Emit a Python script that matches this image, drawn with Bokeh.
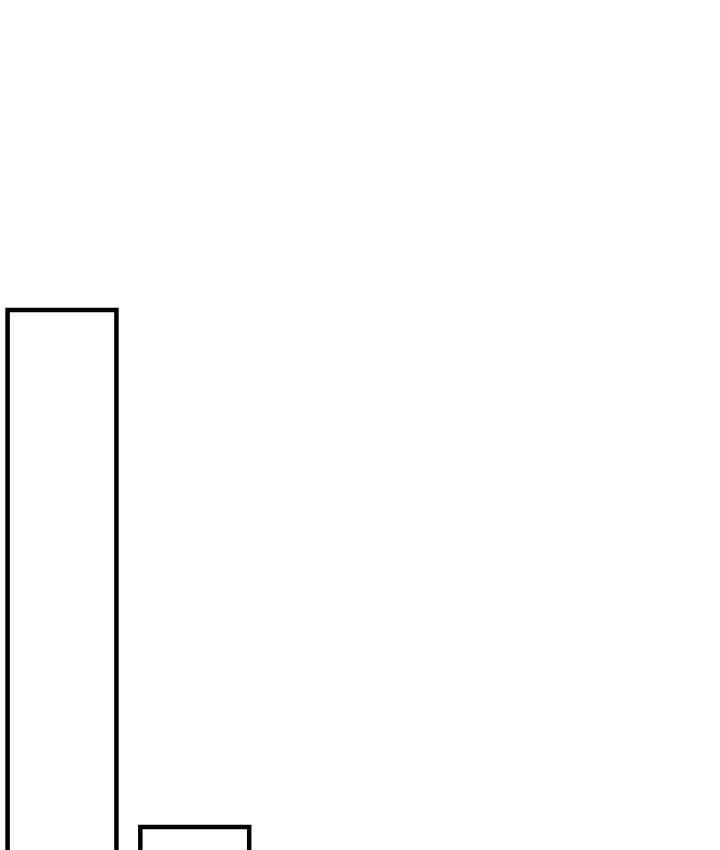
from bokeh.plotting import figure
from bokeh.models import Range1d, ColumnDataSource
from bokeh.embed import file_html
from bokeh.resources import INLINE

categories = ["A", "B"]
positions = [0, 1]
values = [100, 6]

BAR_W = 0.82
BASE = -50

xs = [[x - BAR_W / 2, x - BAR_W / 2, x + BAR_W / 2, x + BAR_W / 2] for x in positions]
ys = [[BASE, v, v, BASE] for v in values]
src = ColumnDataSource(dict(x=positions, top=values, cat=categories, xs=xs, ys=ys))

p = figure(width=720, height=850, output_backend="svg", toolbar_location=None,
           x_range=Range1d(-0.4633, 4.9605), y_range=Range1d(1.727, 156.27),
           min_border=0, min_border_left=0, min_border_right=0,
           min_border_top=0, min_border_bottom=0)
p.vbar(x="x", top="top", bottom=BASE, width=BAR_W, source=src,
       fill_color="white", line_color=None)
p.multi_line(xs="xs", ys="ys", source=src, line_color="black", line_width=4.5,
             line_join="miter")
p.axis.visible = False
p.grid.visible = False
p.outline_line_color = None
p.background_fill_color = "white"
p.border_fill_color = "white"

open("out.html", "w").write(file_html(p, INLINE))
